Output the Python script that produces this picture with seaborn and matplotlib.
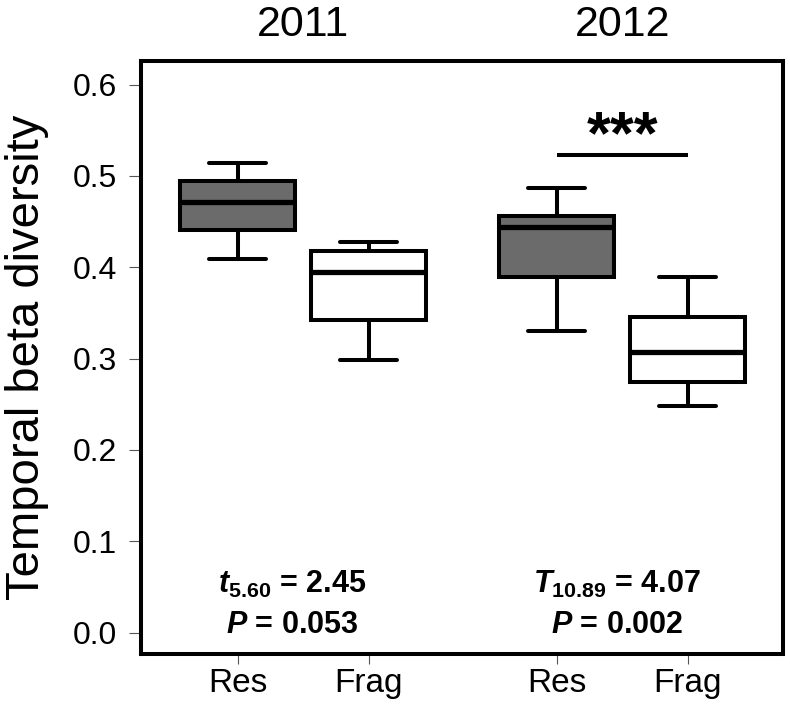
import numpy as np
import pandas as pd
import matplotlib
matplotlib.use("Agg")
import matplotlib.pyplot as plt
import matplotlib.transforms as mtransforms
import seaborn as sns

# groups, in plotting order
years = ["2011", "2011", "2012", "2012"]
sites = ["Res", "Frag", "Res", "Frag"]
positions = [0, 1, 2.435, 3.435]

# five-number summaries: min, q1, median, q3, max
res_2011 = [0.409, 0.441, 0.472, 0.494, 0.514]
frag_2011 = [0.298, 0.342, 0.395, 0.418, 0.428]
res_2012 = [0.330, 0.389, 0.444, 0.456, 0.487]
frag_2012 = [0.248, 0.274, 0.307, 0.346, 0.389]

yticks = [0.0, 0.1, 0.2, 0.3, 0.4, 0.5, 0.6]
test_line1 = [r"$\mathbfit{t}_{\mathbf{5.60}}$ = 2.45", r"$\mathbfit{T}_{\mathbf{10.89}}$ = 4.07"]
test_line2 = [r"$\mathbfit{P}$ = 0.053", r"$\mathbfit{P}$ = 0.002"]
sig_y = 0.523

rows = []
for pos, site, vals in zip(positions, sites, [res_2011, frag_2011, res_2012, frag_2012]):
    for v in vals:
        rows.append({"pos": pos, "site": site, "beta": v})
df = pd.DataFrame(rows)

sns.set_style("white")
plt.rcParams["font.family"] = ["Liberation Sans", "DejaVu Sans"]
plt.rcParams["text.color"] = "black"
plt.rcParams["axes.labelcolor"] = "black"
plt.rcParams["xtick.color"] = "black"
plt.rcParams["ytick.color"] = "black"
plt.rcParams["mathtext.fontset"] = "custom"
plt.rcParams["mathtext.rm"] = "Liberation Sans:bold"
plt.rcParams["mathtext.bf"] = "Liberation Sans:bold"
plt.rcParams["mathtext.bfit"] = "Liberation Sans:italic:bold"

fig = plt.figure(figsize=(7.9, 7.16), dpi=100)
ax = fig.add_axes([0.1791, 0.0866, 0.8124, 0.8282])

sns.boxplot(data=df, x="pos", y="beta", hue="site", native_scale=True, dodge=False,
            palette={"Res": "#6b6b6b", "Frag": "white"}, saturation=1, width=0.88,
            whis=np.inf, linecolor="black", linewidth=2.9,
            medianprops={"linewidth": 3.8}, legend=False, ax=ax)

ax.set_xlim(-0.734, 4.165)
ax.set_ylim(-0.0233, 0.6258)
ax.set_xticks(positions, sites)
ax.set_yticks(yticks, [f"{v:.1f}" for v in yticks])
ax.set_xlabel("")
ax.set_ylabel("Temporal beta diversity", fontsize=34)
ax.yaxis.set_label_coords(-0.144, 0.5)

ax.tick_params(axis="y", left=True, labelsize=23, length=8.4, width=0.8,
               color="#555555", labelcolor="black", pad=9, direction="out")
ax.tick_params(axis="x", bottom=True, labelsize=24, length=7, width=0.8,
               color="#555555", labelcolor="black", pad=3, direction="out")
for s in ax.spines.values():
    s.set_linewidth(2.9)
    s.set_color("black")

# year headers above each pair
trans = mtransforms.blended_transform_factory(ax.transData, ax.transAxes)
for i in range(0, 4, 2):
    ax.text((positions[i] + positions[i + 1]) / 2, 1.042, years[i], transform=trans,
            ha="center", va="baseline", fontsize=31, color="black")

# test statistics
text_x = [0.414, 2.896]
for x, l1, l2 in zip(text_x, test_line1, test_line2):
    ax.text(x, 0.0435, l1, ha="center", va="baseline", fontsize=22, fontweight="bold",
            color="black")
    ax.text(x, 0.0, l2, ha="center", va="baseline", fontsize=22, fontweight="bold",
            color="black")

# significance bar for 2012
ax.plot([positions[2], positions[3]], [sig_y, sig_y], color="black", lw=2.9,
        solid_capstyle="butt")
ax.text((positions[2] + positions[3]) / 2, 0.525, "***", ha="center", va="baseline",
        fontsize=44, fontweight="bold", color="black")

fig.savefig("out.png", dpi=100)
